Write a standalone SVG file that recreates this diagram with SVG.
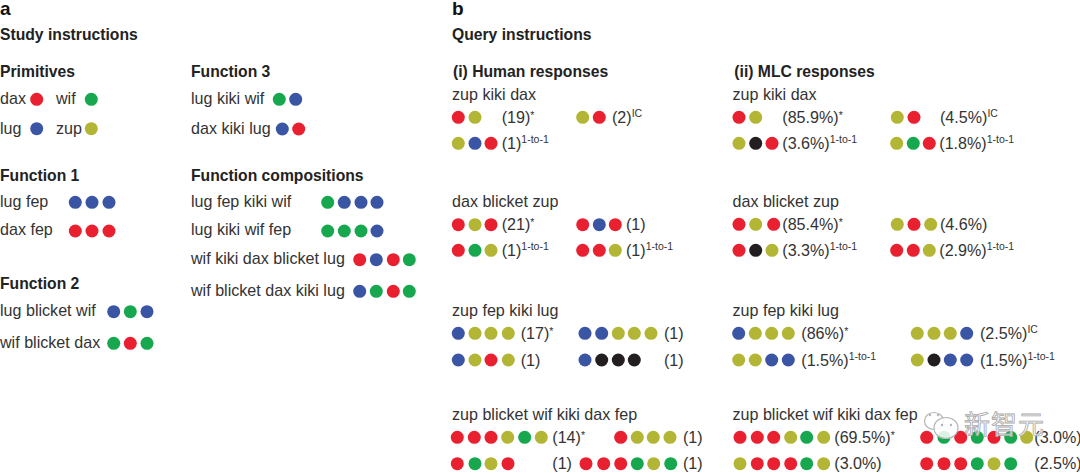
<svg xmlns="http://www.w3.org/2000/svg" xmlns:xlink="http://www.w3.org/1999/xlink" width="1080" height="473" viewBox="0 0 1080 473">
<style>
text{font-family:"Liberation Sans",Arial,sans-serif;fill:#333;font-size:16.1px}
.h{font-weight:700;fill:#222;font-size:15.7px}
.p{font-weight:700;fill:#111;font-size:19px}
.s{font-size:10.5px}
.R{fill:#e8202f}.G{fill:#17a84f}.B{fill:#3a55a4}.Y{fill:#b3b535}.K{fill:#231f20}
.wm{font-family:"Noto Sans CJK SC",sans-serif;font-size:26px;fill:#fff;fill-opacity:.75;stroke:#a8a8a8;stroke-width:.8px;letter-spacing:1px}
.wi{fill:#fff;stroke:#b5b5b5;stroke-width:1.2}
.wd{fill:#b5b5b5}
</style>
<defs>
<circle id="r" r="6.5" class="R"/><circle id="g" r="6.5" class="G"/><circle id="b" r="6.5" class="B"/><circle id="y" r="6.5" class="Y"/><circle id="k" r="6.5" class="K"/>
</defs>
<rect width="1080" height="473" fill="#fff"/>
<g id="panel-a">
<text class="p" x="0" y="15">a</text>
<text class="h" x="0" y="39.5">Study instructions</text>
<g id="primitives">
<text class="h" x="0" y="77">Primitives</text>
<text x="0" y="104">dax</text><use href="#r" x="36.7" y="99.3"/>
<text x="56" y="104">wif</text><use href="#g" x="91.3" y="99.3"/>
<text x="0" y="133.5">lug</text><use href="#b" x="36.7" y="128.7"/>
<text x="56" y="133.5">zup</text><use href="#y" x="91.3" y="128.7"/>
</g>
<g id="function-1">
<text class="h" x="0" y="180.5">Function 1</text>
<text x="0" y="206.7">lug fep</text><use href="#b" x="75.3" y="202.3"/><use href="#b" x="92" y="202.3"/><use href="#b" x="109" y="202.3"/>
<text x="0" y="235.3">dax fep</text><use href="#r" x="75.3" y="231"/><use href="#r" x="92" y="231"/><use href="#r" x="109" y="231"/>
</g>
<g id="function-2">
<text class="h" x="0" y="288.5">Function 2</text>
<text x="0" y="316">lug blicket wif</text><use href="#b" x="113.7" y="311.7"/><use href="#g" x="130.3" y="311.7"/><use href="#b" x="147" y="311.7"/>
<text x="0" y="347.7">wif blicket dax</text><use href="#g" x="113.7" y="343.3"/><use href="#r" x="130.3" y="343.3"/><use href="#g" x="147" y="343.3"/>
</g>
<g id="function-3">
<text class="h" x="191" y="77">Function 3</text>
<text x="191" y="104">lug kiki wif</text><use href="#g" x="279.3" y="99.3"/><use href="#b" x="295.7" y="99.3"/>
<text x="191" y="133.5">dax kiki lug</text><use href="#b" x="282.3" y="129"/><use href="#r" x="298.7" y="129"/>
</g>
<g id="function-compositions">
<text class="h" x="191" y="180.5">Function compositions</text>
<text x="191" y="206.7">lug fep kiki wif</text><use href="#g" x="327.7" y="202.3"/><use href="#b" x="344.3" y="202.3"/><use href="#b" x="361" y="202.3"/><use href="#b" x="377" y="202.3"/>
<text x="191" y="235.3">lug kiki wif fep</text><use href="#g" x="327.7" y="231"/><use href="#g" x="344.3" y="231"/><use href="#g" x="361" y="231"/><use href="#b" x="377" y="231"/>
<text x="191" y="264">wif kiki dax blicket lug</text><use href="#r" x="359.7" y="259.7"/><use href="#b" x="376.3" y="259.7"/><use href="#r" x="393.3" y="259.7"/><use href="#g" x="409.3" y="259.7"/>
<text x="191" y="295.7">wif blicket dax kiki lug</text><use href="#b" x="359.7" y="291.3"/><use href="#g" x="376.3" y="291.3"/><use href="#r" x="393.3" y="291.3"/><use href="#g" x="409.3" y="291.3"/>
</g>
</g>
<g id="panel-b">
<text class="p" x="452" y="15">b</text>
<text class="h" x="452" y="39.5">Query instructions</text>
<g id="human-responses">
<text class="h" x="453" y="76.5">(i) Human responses</text>
<g id="human-1">
<text x="452" y="99.5">zup kiki dax</text>
<use href="#r" x="458.3" y="117.3"/><use href="#y" x="475" y="117.3"/><text x="501.7" y="122.5">(19)<tspan class="s" dy="-4">*</tspan></text>
<use href="#y" x="582.7" y="117.3"/><use href="#r" x="599.3" y="117.3"/><text x="612" y="122.5">(2)<tspan class="s" dy="-6">IC</tspan></text>
<use href="#y" x="458.3" y="143.3"/><use href="#b" x="475" y="143.3"/><use href="#r" x="491" y="143.3"/><text x="501.7" y="148.5">(1)<tspan class="s" dy="-6">1-to-1</tspan></text>
</g>
<g id="human-2">
<text x="452" y="206.7">dax blicket zup</text>
<use href="#r" x="458.3" y="224.7"/><use href="#y" x="475" y="224.7"/><use href="#r" x="491" y="224.7"/><text x="501.7" y="229.7">(21)<tspan class="s" dy="-4">*</tspan></text>
<use href="#r" x="582.7" y="224.7"/><use href="#b" x="599.3" y="224.7"/><use href="#r" x="615.3" y="224.7"/><text x="626" y="229.7">(1)</text>
<use href="#r" x="458.3" y="250.3"/><use href="#g" x="475" y="250.3"/><use href="#y" x="491" y="250.3"/><text x="501.7" y="255.5">(1)<tspan class="s" dy="-6">1-to-1</tspan></text>
<use href="#r" x="582.7" y="250.3"/><use href="#r" x="599.3" y="250.3"/><use href="#y" x="615.3" y="250.3"/><text x="626" y="255.5">(1)<tspan class="s" dy="-6">1-to-1</tspan></text>
</g>
<g id="human-3">
<text x="452" y="316">zup fep kiki lug</text>
<use href="#b" x="458.3" y="333.3"/><use href="#y" x="475" y="333.3"/><use href="#y" x="491" y="333.3"/><use href="#y" x="508.3" y="333.3"/><text x="520.7" y="339.3">(17)<tspan class="s" dy="-4">*</tspan></text>
<use href="#b" x="585" y="333.3"/><use href="#b" x="601.7" y="333.3"/><use href="#y" x="618.3" y="333.3"/><use href="#y" x="634.3" y="333.3"/><use href="#y" x="651" y="333.3"/><text x="664" y="339.3">(1)</text>
<use href="#b" x="458.3" y="360"/><use href="#y" x="475" y="360"/><use href="#r" x="491" y="360"/><use href="#y" x="508.3" y="360"/><text x="520.7" y="366">(1)</text>
<use href="#b" x="585" y="360"/><use href="#k" x="601.7" y="360"/><use href="#k" x="618.3" y="360"/><use href="#k" x="634.3" y="360"/><text x="664" y="366">(1)</text>
</g>
<g id="human-4">
<text x="452" y="420">zup blicket wif kiki dax fep</text>
<use href="#r" x="457.3" y="437.3"/><use href="#r" x="474.3" y="437.3"/><use href="#r" x="491" y="437.3"/><use href="#y" x="507.7" y="437.3"/><use href="#g" x="524.7" y="437.3"/><use href="#y" x="541.3" y="437.3"/><text x="552.3" y="442.7">(14)<tspan class="s" dy="-4">*</tspan></text>
<use href="#r" x="620.7" y="437.3"/><use href="#y" x="637.3" y="437.3"/><use href="#y" x="653.3" y="437.3"/><use href="#y" x="670" y="437.3"/><text x="683" y="442.7">(1)</text>
<use href="#r" x="457.3" y="463.7"/><use href="#g" x="475" y="463.7"/><use href="#y" x="491" y="463.7"/><use href="#r" x="508" y="463.7"/><text x="552.3" y="469.3">(1)</text>
<use href="#r" x="586" y="463.7"/><use href="#r" x="603.7" y="463.7"/><use href="#r" x="620.7" y="463.7"/><use href="#g" x="637.3" y="463.7"/><use href="#y" x="653.7" y="463.7"/><use href="#g" x="670.7" y="463.7"/><text x="683" y="469.3">(1)</text>
</g>
</g>
<g id="mlc-responses">
<text class="h" x="734.3" y="76.7">(ii) MLC responses</text>
<g id="mlc-1">
<text x="732.5" y="100">zup kiki dax</text>
<use href="#r" x="739" y="117.3"/><use href="#y" x="755.7" y="117.3"/><text x="782.3" y="122.5">(85.9%)<tspan class="s" dy="-4">*</tspan></text>
<use href="#y" x="897.3" y="117.3"/><use href="#r" x="914" y="117.3"/><text x="940" y="122.5">(4.5%)<tspan class="s" dy="-6">IC</tspan></text>
<use href="#y" x="739" y="143.3"/><use href="#k" x="755.7" y="143.3"/><use href="#r" x="772" y="143.3"/><text x="782.3" y="148.5">(3.6%)<tspan class="s" dy="-6">1-to-1</tspan></text>
<use href="#y" x="896.7" y="143.3"/><use href="#g" x="913.3" y="143.3"/><use href="#r" x="929.3" y="143.3"/><text x="939.3" y="148.5">(1.8%)<tspan class="s" dy="-6">1-to-1</tspan></text>
</g>
<g id="mlc-2">
<text x="732.5" y="206.7">dax blicket zup</text>
<use href="#r" x="739" y="224.3"/><use href="#y" x="755.7" y="224.3"/><use href="#r" x="773.7" y="224.3"/><text x="782.3" y="229.7">(85.4%)<tspan class="s" dy="-4">*</tspan></text>
<use href="#y" x="897.3" y="224.3"/><use href="#r" x="914" y="224.3"/><use href="#y" x="930.7" y="224.3"/><text x="940" y="229.7">(4.6%)</text>
<use href="#r" x="739" y="250.3"/><use href="#k" x="755.7" y="250.3"/><use href="#y" x="772" y="250.3"/><text x="782.3" y="255.5">(3.3%)<tspan class="s" dy="-6">1-to-1</tspan></text>
<use href="#r" x="896.7" y="250.3"/><use href="#r" x="913.3" y="250.3"/><use href="#y" x="929.3" y="250.3"/><text x="939.3" y="255.5">(2.9%)<tspan class="s" dy="-6">1-to-1</tspan></text>
</g>
<g id="mlc-3">
<text x="732.5" y="316">zup fep kiki lug</text>
<use href="#b" x="738.7" y="333.3"/><use href="#y" x="755.3" y="333.3"/><use href="#y" x="771.7" y="333.3"/><use href="#y" x="788.3" y="333.3"/><text x="801.3" y="339.3">(86%)<tspan class="s" dy="-4">*</tspan></text>
<use href="#y" x="917.3" y="333.3"/><use href="#y" x="934" y="333.3"/><use href="#y" x="950.3" y="333.3"/><use href="#b" x="966.7" y="333.3"/><text x="980" y="339.3">(2.5%)<tspan class="s" dy="-6">IC</tspan></text>
<use href="#y" x="738.7" y="360"/><use href="#y" x="755.3" y="360"/><use href="#b" x="771.7" y="360"/><use href="#b" x="788.3" y="360"/><text x="801.3" y="366">(1.5%)<tspan class="s" dy="-6">1-to-1</tspan></text>
<use href="#y" x="917.3" y="360"/><use href="#k" x="934" y="360"/><use href="#b" x="950.3" y="360"/><use href="#b" x="966.7" y="360"/><text x="980" y="366">(1.5%)<tspan class="s" dy="-6">1-to-1</tspan></text>
</g>
<g id="mlc-4">
<text x="732.5" y="420">zup blicket wif kiki dax fep</text>
<use href="#r" x="740" y="437.3"/><use href="#r" x="757.3" y="437.3"/><use href="#r" x="773.7" y="437.3"/><use href="#y" x="790.7" y="437.3"/><use href="#g" x="806.7" y="437.3"/><use href="#y" x="823.7" y="437.3"/><text x="834.3" y="442.7">(69.5%)<tspan class="s" dy="-4">*</tspan></text>
<use href="#r" x="926.7" y="437.3"/><use href="#g" x="944" y="437.3"/><use href="#r" x="960.7" y="437.3"/><use href="#g" x="977.3" y="437.3"/><use href="#r" x="994" y="437.3"/><use href="#g" x="1010.7" y="437.3"/><use href="#y" x="1026.7" y="437.3"/><text x="1034.3" y="442.7">(3.0%)</text>
<use href="#y" x="740" y="463.7"/><use href="#r" x="757.3" y="463.7"/><use href="#r" x="773.7" y="463.7"/><use href="#r" x="790.7" y="463.7"/><use href="#g" x="806.7" y="463.7"/><use href="#y" x="823.7" y="463.7"/><text x="834.3" y="469.3">(3.0%)</text>
<use href="#r" x="926.7" y="463.7"/><use href="#r" x="944" y="463.7"/><use href="#r" x="960.7" y="463.7"/><use href="#g" x="977.3" y="463.7"/><use href="#y" x="994" y="463.7"/><use href="#g" x="1010.7" y="463.7"/><text x="1034.3" y="469.3">(2.5%)</text>
</g>
</g>
</g>
<g id="watermark">
<ellipse class="wi" cx="934" cy="421" rx="9.5" ry="8.5" fill-opacity=".7"/>
<ellipse class="wi" cx="946" cy="428" rx="12" ry="10.5" fill-opacity=".85"/>
<circle class="wd" cx="930" cy="415" r="1.2"/><circle class="wd" cx="938" cy="415" r="1.2"/><circle class="wd" cx="942" cy="425" r="1.2"/><circle class="wd" cx="951" cy="425" r="1.2"/>
<text class="wm" x="964" y="434">新智元</text>
</g>
</svg>
